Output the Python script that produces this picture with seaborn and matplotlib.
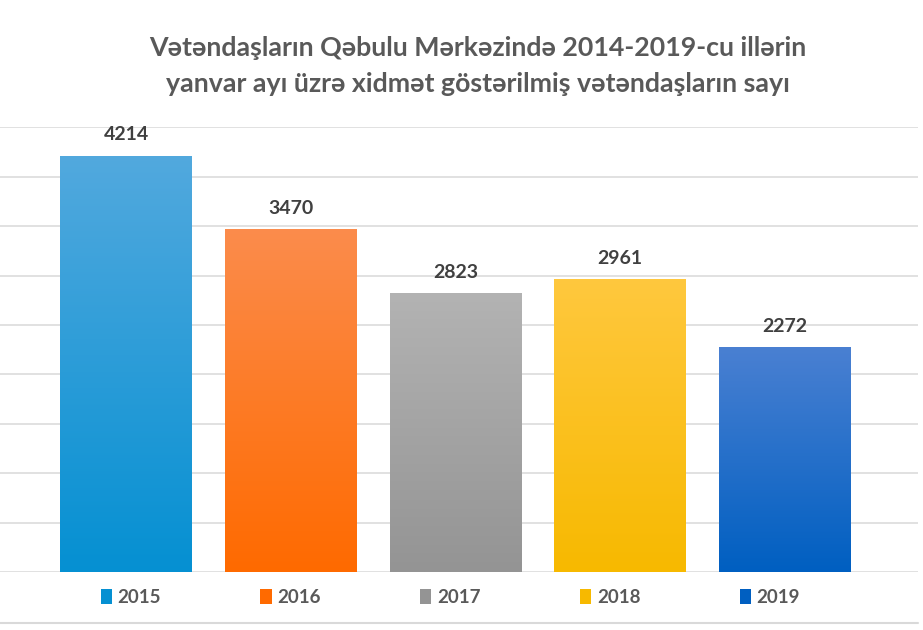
import numpy as np
import pandas as pd
import matplotlib
matplotlib.use("Agg")
import matplotlib.pyplot as plt
import seaborn as sns
from matplotlib.colors import LinearSegmentedColormap
from matplotlib.patches import Patch

years = ["2015", "2016", "2017", "2018", "2019"]
counts = [4214, 3470, 2823, 2961, 2272]
top_colors = ["#52a9de", "#fb8c4c", "#b3b3b3", "#ffc83e", "#4a80d2"]
bottom_colors = ["#0590d2", "#ff6a00", "#949494", "#f7b900", "#005fc1"]
title = "Vətəndaşların Qəbulu Mərkəzində 2014-2019-cu illərin\nyanvar ayı üzrə xidmət göstərilmiş vətəndaşların sayı"

df = pd.DataFrame({"year": years, "count": counts})

sns.set_style("white")
plt.rcParams["font.family"] = ["Lato", "DejaVu Sans"]

fig = plt.figure(figsize=(9.23, 6.3), dpi=100)
ax = fig.add_axes([0, 0.092, 0.9946, 0.706])

sns.barplot(data=df, x="year", y="count", hue="year", palette=top_colors,
            width=0.8, legend=False, ax=ax, zorder=3, linewidth=0)

# vertical gradient inside each bar
for patch, c_top, c_bot in zip(ax.patches, top_colors, bottom_colors):
    x0, y0 = patch.get_x(), patch.get_y()
    w, h = patch.get_width(), patch.get_height()
    cmap = LinearSegmentedColormap.from_list("g", [c_bot, c_top])
    grad = np.linspace(0, 1, 256).reshape(-1, 1)
    im = ax.imshow(grad, cmap=cmap, aspect="auto", origin="lower",
                   extent=[x0, x0 + w, y0, y0 + h], zorder=4)
    im.set_clip_path(patch)

for i, v in enumerate(counts):
    ax.annotate(str(v), (i, v), xytext=(0, 9), textcoords="offset points",
                ha="center", va="bottom", fontsize=14, fontweight="bold",
                color="#404040", zorder=5)

ax.set_xlim(-0.765, 4.807)
ax.set_ylim(0, 4500)
ax.set_yticks(np.arange(0, 4501, 500))
ax.yaxis.grid(True, color="#d9d9d9", linewidth=1.1, zorder=0)
ax.set_axisbelow(True)
ax.set_xticks([])
ax.set_yticklabels([])
ax.tick_params(left=False, bottom=False)
ax.set_xlabel("")
ax.set_ylabel("")
sns.despine(ax=ax, left=True, bottom=True)

fig.text(0.518, 0.895, title, ha="center", va="center", fontsize=19.3,
         fontweight="bold", color="#595959", linespacing=1.62)

handles = [Patch(facecolor=c, edgecolor="none") for c in bottom_colors]
fig.legend(handles, years, loc="center", bbox_to_anchor=(0.488, 0.052),
           ncol=5, frameon=False, handlelength=0.6, handleheight=0.9,
           handletextpad=0.3, columnspacing=5.3,
           prop={"size": 13.5, "weight": "bold"}, labelcolor="#595959")

fig.add_artist(plt.Line2D([0, 0.995], [0.011, 0.011], color="#d9d9d9",
                          linewidth=1.5, transform=fig.transFigure))

fig.savefig("out.png", dpi=100)
